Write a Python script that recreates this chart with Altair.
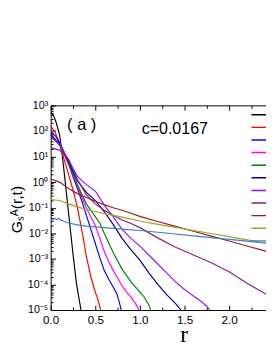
import altair as alt
import pandas as pd

# ---- data (r, log10 G) ----
names = ["s1", "s2", "s3", "s4", "s5", "s6", "s7", "s8", "s9", "s10", "s11"]
colors = ["#000000", "#ff0000", "#0000ff", "#ff00ff", "#008000", "#000080",
          "#8c1aff", "#8b1c8b", "#9b1c1c", "#a3a026", "#3f7fbf"]

black_r = [0, 0.03, 0.06, 0.1, 0.13, 0.16, 0.2, 0.25, 0.29, 0.34]
black_lg = [2.72, 2.62, 2.35, 1.85, 1.05, 0.1, -1.2, -2.8, -4.0, -5]

red_r = [0, 0.05, 0.1, 0.15, 0.2, 0.25, 0.3, 0.35, 0.4, 0.45, 0.5, 0.53, 0.56]
red_lg = [2.2, 1.95, 1.5, 0.9, 0.3, -0.3, -1.0, -1.9, -2.9, -3.7, -4.3, -4.6, -5]

blue_r = [0, 0.05, 0.1, 0.15, 0.2, 0.25, 0.3, 0.35, 0.4, 0.45, 0.5, 0.55, 0.6, 0.65, 0.7, 0.74, 0.77, 0.79]
blue_lg = [1.95, 1.82, 1.55, 1.18, 0.72, 0.22, -0.25, -0.75, -1.3, -1.85, -2.4, -2.95, -3.45, -3.8, -4.1, -4.35, -4.7, -5]

magenta_r = [0, 0.1, 0.2, 0.3, 0.35, 0.4, 0.45, 0.5, 0.55, 0.6, 0.65, 0.7, 0.75, 0.8, 0.85, 0.9, 0.95, 0.99]
magenta_lg = [1.85, 1.45, 0.72, -0.15, -0.6, -1.0, -1.35, -1.7, -2.2, -2.7, -3.1, -3.45, -3.75, -4.05, -4.3, -4.5, -4.75, -5]

green_r = [0, 0.1, 0.2, 0.3, 0.4, 0.5, 0.55, 0.6, 0.7, 0.8, 0.9, 1.0, 1.05, 1.1, 1.12]
green_lg = [1.82, 1.45, 0.75, -0.1, -0.85, -1.35, -1.6, -2.0, -2.75, -3.4, -3.9, -4.3, -4.5, -4.8, -5]

navy_r = [0, 0.1, 0.2, 0.3, 0.4, 0.5, 0.6, 0.7, 0.8, 0.9, 1.0, 1.1, 1.2, 1.3, 1.4, 1.46]
navy_lg = [1.85, 1.5, 0.8, 0.05, -0.4, -0.72, -1.15, -1.65, -2.2, -2.65, -3.05, -3.55, -4.0, -4.4, -4.75, -5]

violet_r = [0, 0.1, 0.2, 0.3, 0.4, 0.5, 0.6, 0.7, 0.8, 0.9, 1.0, 1.1, 1.2, 1.3, 1.4, 1.5, 1.6, 1.68, 1.75, 1.78]
violet_lg = [1.78, 1.48, 0.85, 0.22, -0.1, -0.35, -0.9, -1.35, -1.85, -2.2, -2.5, -2.85, -3.2, -3.55, -3.9, -4.2, -4.45, -4.65, -4.85, -5]

purple_r = [0, 0.1, 0.2, 0.3, 0.4, 0.5, 0.6, 0.7, 0.8, 0.9, 1.0, 1.2, 1.4, 1.6, 1.8, 2.0, 2.2, 2.4, 2.6]
purple_lg = [1.35, 1.25, 0.9, 0.1, -0.5, -0.85, -1.1, -1.3, -1.48, -1.62, -1.78, -2.18, -2.55, -2.85, -3.15, -3.5, -3.95, -4.35, -4.75]

wine_r = [0, 0.1, 0.2, 0.3, 0.4, 0.5, 0.6, 0.7, 0.8, 0.9, 1.0, 1.2, 1.4, 1.6, 1.8, 2.0, 2.2, 2.4, 2.6]
wine_lg = [0.12, 0.0, -0.25, -0.45, -0.6, -0.75, -0.88, -1.0, -1.1, -1.22, -1.34, -1.54, -1.73, -1.92, -2.11, -2.3, -2.5, -2.69, -2.88]

olive_r = [0, 0.1, 0.2, 0.3, 0.4, 0.5, 0.6, 0.8, 1.0, 1.2, 1.4, 1.6, 1.8, 2.0, 2.2, 2.4, 2.6]
olive_lg = [-0.68, -0.72, -0.85, -0.97, -1.07, -1.15, -1.23, -1.37, -1.52, -1.65, -1.77, -1.89, -2.01, -2.13, -2.26, -2.38, -2.5]

steel_r = [0, 0.03, 0.05, 0.07, 0.09, 0.11, 0.14, 0.2, 0.3, 0.4, 0.6, 0.8, 1.0, 1.2, 1.4, 1.6, 1.8, 2.0, 2.2, 2.4, 2.6]
steel_lg = [-1.5, -1.46, -1.42, -1.47, -1.41, -1.48, -1.52, -1.6, -1.67, -1.72, -1.78, -1.84, -1.89, -1.96, -2.03, -2.1, -2.17, -2.24, -2.31, -2.38, -2.45]

series = [(black_r, black_lg), (red_r, red_lg), (blue_r, blue_lg), (magenta_r, magenta_lg),
          (green_r, green_lg), (navy_r, navy_lg), (violet_r, violet_lg), (purple_r, purple_lg),
          (wine_r, wine_lg), (olive_r, olive_lg), (steel_r, steel_lg)]

x_labels = [0.0, 0.5, 1.0, 1.5, 2.0]
x_ticks = [0, 0.25, 0.5, 0.75, 1.0, 1.25, 1.5, 1.75, 2.0, 2.25]
y_labels = [1e-5, 1e-4, 1e-3, 1e-2, 1e-1, 1e0, 1e1, 1e2, 1e3]
y_label_text = ["10⁻⁵", "10⁻⁴", "10⁻³", "10⁻²", "10⁻¹", "10⁰", "10¹", "10²", "10³"]
y_ticks = [m * 10.0 ** k for k in range(-5, 3) for m in range(1, 10)] + [1e3]

rows = []
for name, (rs, lgs) in zip(names, series):
    for i, (r, lg) in enumerate(zip(rs, lgs)):
        rows.append({"series": name, "r": r, "G": 10.0 ** lg, "i": i})
df = pd.DataFrame(rows)

W, H = 222, 211
XMAX = W / 92.0
FONT = "Liberation Sans"

xscale = alt.Scale(domain=[0, XMAX], nice=False, zero=False)
yscale = alt.Scale(type="log", domain=[1e-5, 1e3], nice=False)

label_expr = "[" + ",".join("'%s'" % t for t in y_label_text) + "][round(log(datum.value)/LN10)+5]"
major_y = "abs(log(datum.value)/LN10 - round(log(datum.value)/LN10)) < 0.001"
major_x = "abs(datum.value*2 - round(datum.value*2)) < 0.001"

lines = alt.Chart(df).mark_line(clip=True, strokeWidth=1.2).encode(
    x=alt.X("r:Q", scale=xscale, axis=alt.Axis(
        values=x_labels, format=".1f", ticks=False, grid=False, domainColor="#000",
        labelFont=FONT, labelFontSize=12, labelColor="#000", labelPadding=5, labelFlush=False,
        title="r", titleFont="Liberation Serif", titleFontSize=24, titleFontWeight="normal",
        titleColor="#000", titleX=137, titleY=32, titleBaseline="alphabetic")),
    y=alt.Y("G:Q", scale=yscale, axis=alt.Axis(
        values=y_labels, labelExpr=label_expr, ticks=False, grid=False, domainColor="#000",
        labelFont=FONT, labelFontSize=11, labelColor="#000", labelPadding=3, labelFlush=False,
        title="Gₛᴬ(r,t)", titleFont=FONT, titleFontSize=16, titleFontWeight="normal",
        titleColor="#000", titleAngle=270, titleX=-35, titleY=107,
        titleAlign="center", titleBaseline="middle")),
    color=alt.Color("series:N", scale=alt.Scale(domain=names, range=colors),
                    legend=alt.Legend(orient="none", legendX=206, legendY=3.6, title=None,
                                      symbolType="stroke", symbolSize=400, symbolStrokeWidth=1.5,
                                      labelExpr="''", rowPadding=0, clipHeight=12.2,
                                      padding=0, offset=0)),
    order="i:Q",
)

tick_in_bottom_left = alt.Chart(df).mark_line(strokeOpacity=0).encode(
    x=alt.X("r:Q", scale=xscale, axis=alt.Axis(
        orient="top", offset=-H, values=x_ticks, labels=False, domain=False, grid=False,
        title=None, tickColor="#000",
        tickSize={"condition": {"test": major_x, "value": 5}, "value": 3})),
    y=alt.Y("G:Q", scale=yscale, axis=alt.Axis(
        orient="right", offset=-W, values=y_ticks, labels=False, domain=False, grid=False,
        title=None, tickColor="#000",
        tickSize={"condition": {"test": major_y, "value": 5}, "value": 2.5})),
    detail="series:N",
)

tick_top = alt.Chart(df).mark_line(strokeOpacity=0).encode(
    x=alt.X("r:Q", scale=xscale, axis=alt.Axis(
        orient="bottom", offset=-H, values=x_ticks, labels=False, domain=True,
        domainColor="#000", grid=False, title=None, tickColor="#000",
        tickSize={"condition": {"test": major_x, "value": 5}, "value": 3})),
    y=alt.Y("G:Q", scale=yscale, axis=None),
    detail="series:N",
)

ann = pd.DataFrame({"txt": ["( a )", "c=0.0167"]})
t1 = alt.Chart(ann).transform_filter("datum.txt == '( a )'").mark_text(
    font=FONT, fontSize=17, align="center", baseline="alphabetic", color="#000"
).encode(text="txt:N", x=alt.value(32), y=alt.value(25))
t2 = alt.Chart(ann).transform_filter("datum.txt == 'c=0.0167'").mark_text(
    font=FONT, fontSize=16.5, align="center", baseline="alphabetic", color="#000"
).encode(text="txt:N", x=alt.value(128), y=alt.value(30))

chart = alt.layer(lines, tick_in_bottom_left, tick_top, t1, t2).resolve_axis(
    x="independent", y="independent"
).properties(
    width=W, height=H,
    autosize=alt.AutoSizeParams(type="none"),
    padding={"left": 44, "top": 95, "right": 0, "bottom": 41},
).configure_view(stroke=None).configure_axis(domainWidth=1, tickWidth=1)

chart.save("out.html", embed_options={"renderer": "svg", "actions": False})
